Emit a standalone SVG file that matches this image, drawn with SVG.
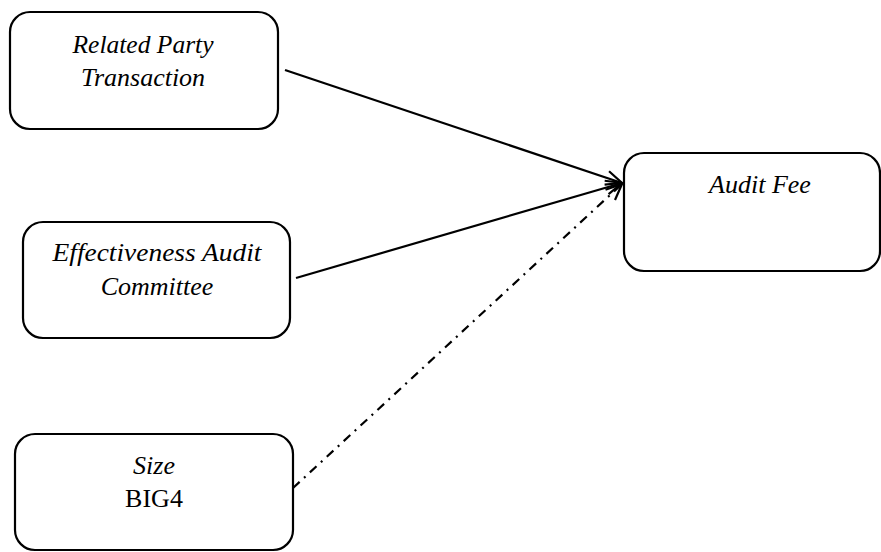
<svg xmlns="http://www.w3.org/2000/svg" width="881" height="552" viewBox="0 0 881 552">
<style>
.box{fill:#fff;stroke:#000;stroke-width:2.2}
.t{font-family:"Liberation Serif","DejaVu Serif",serif;font-size:26px;font-style:italic;fill:#000;text-anchor:middle}
.n{font-family:"Liberation Serif","DejaVu Serif",serif;font-size:26px;fill:#000;text-anchor:middle}
.c{fill:none;stroke:#000;stroke-width:2.2}
.dd{stroke-dasharray:9 6 2 6}
</style>
<defs>
<marker id="ah" viewBox="0 0 20 20" refX="18" refY="10" markerWidth="20" markerHeight="20" markerUnits="userSpaceOnUse" orient="auto">
<path d="M2,3 L18,10 L2,17" fill="none" stroke="#000" stroke-width="2.2"/>
</marker>
</defs>
<rect width="881" height="552" fill="#fff"/>
<g id="connectors">
<line class="c" x1="285" y1="70" x2="622" y2="183" marker-end="url(#ah)"/>
<line class="c" x1="296" y1="278" x2="622" y2="183" marker-end="url(#ah)"/>
<line class="c dd" x1="293" y1="488" x2="622" y2="184" marker-end="url(#ah)"/>
</g>
<g id="related">
<rect class="box" x="10" y="12" width="268" height="117" rx="20"/>
<text class="t" x="143" y="53" textLength="141" lengthAdjust="spacingAndGlyphs">Related Party</text>
<text class="t" x="143" y="86">Transaction</text>
</g>
<g id="effectiveness">
<rect class="box" x="23" y="222" width="267" height="116" rx="20"/>
<text class="t" x="157" y="261" textLength="209" lengthAdjust="spacingAndGlyphs">Effectiveness Audit</text>
<text class="t" x="157" y="295">Committee</text>
</g>
<g id="size">
<rect class="box" x="15" y="434" width="278" height="116" rx="20"/>
<text class="t" x="154" y="474">Size</text>
<text class="n" x="154" y="507">BIG4</text>
</g>
<g id="auditfee">
<rect class="box" x="624" y="153" width="256" height="118" rx="20"/>
<text class="t" x="760" y="193">Audit Fee</text>
</g>
</svg>
